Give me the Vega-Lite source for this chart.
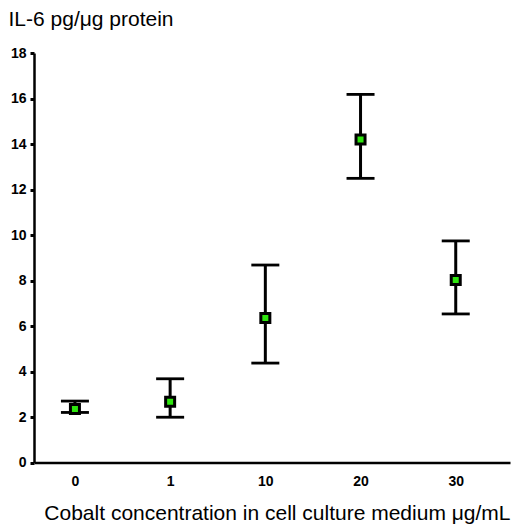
{
  "$schema": "https://vega.github.io/schema/vega-lite/v6.json",
  "autosize": "none",
  "width": 476,
  "height": 409.5,
  "padding": {"left": 34, "top": 53, "right": 2, "bottom": 63.5},
  "background": "white",
  "config": {"view": {"stroke": null}, "font": "Liberation Sans"},
  "data": {"values": [
    {"conc": "0", "mean": 2.35, "lo": 2.2, "hi": 2.7},
    {"conc": "1", "mean": 2.67, "lo": 1.99, "hi": 3.68},
    {"conc": "10", "mean": 6.35, "lo": 4.37, "hi": 8.68},
    {"conc": "20", "mean": 14.2, "lo": 12.49, "hi": 16.18},
    {"conc": "30", "mean": 8.02, "lo": 6.53, "hi": 9.74}
  ]},
  "encoding": {
    "x": {
      "field": "conc", "type": "ordinal", "sort": ["0", "1", "10", "20", "30"],
      "scale": {"type": "point", "padding": 0.5, "align": 0.43},
      "axis": {
        "title": "Cobalt concentration in cell culture medium μg/mL",
        "titleFont": "Liberation Sans", "titleFontSize": 21, "titleFontWeight": "normal", "titleColor": "black",
        "titlePadding": 14, "titleAnchor": "end",
        "labelAngle": 0, "labelFontSize": 14, "labelColor": "black", "labelFontWeight": "bold",
        "labelPadding": 12, "ticks": false,
        "domainColor": "black", "domainWidth": 2.5, "grid": false
      }
    }
  },
  "layer": [
    {
      "mark": {"type": "rule", "color": "black", "strokeWidth": 3},
      "encoding": {
        "y": {"field": "lo", "type": "quantitative", "scale": {"domain": [0, 18]},
          "axis": {
            "title": "IL-6 pg/μg protein", "titleAngle": 0, "titleAlign": "left", "titleBaseline": "alphabetic",
            "titleX": -26, "titleY": -28, "titleFontSize": 21, "titleFontWeight": "normal", "titleColor": "black",
            "values": [0, 2, 4, 6, 8, 10, 12, 14, 16, 18],
            "labelFontSize": 14, "labelColor": "black", "labelPadding": 4, "labelFontWeight": "bold",
            "tickSize": 4, "tickWidth": 3, "tickColor": "black",
            "domainColor": "black", "domainWidth": 2.5, "grid": false
          }},
        "y2": {"field": "hi"}
      }
    },
    {
      "mark": {"type": "tick", "color": "black", "opacity": 1, "thickness": 2.8, "size": 28, "orient": "horizontal"},
      "encoding": {"y": {"field": "lo", "type": "quantitative"}}
    },
    {
      "mark": {"type": "tick", "color": "black", "opacity": 1, "thickness": 2.8, "size": 28, "orient": "horizontal"},
      "encoding": {"y": {"field": "hi", "type": "quantitative"}}
    },
    {
      "mark": {"type": "point", "shape": "square", "filled": true, "fill": "#2ee60e", "stroke": "black", "strokeWidth": 3, "size": 81, "opacity": 1},
      "encoding": {"y": {"field": "mean", "type": "quantitative"}}
    }
  ]
}
